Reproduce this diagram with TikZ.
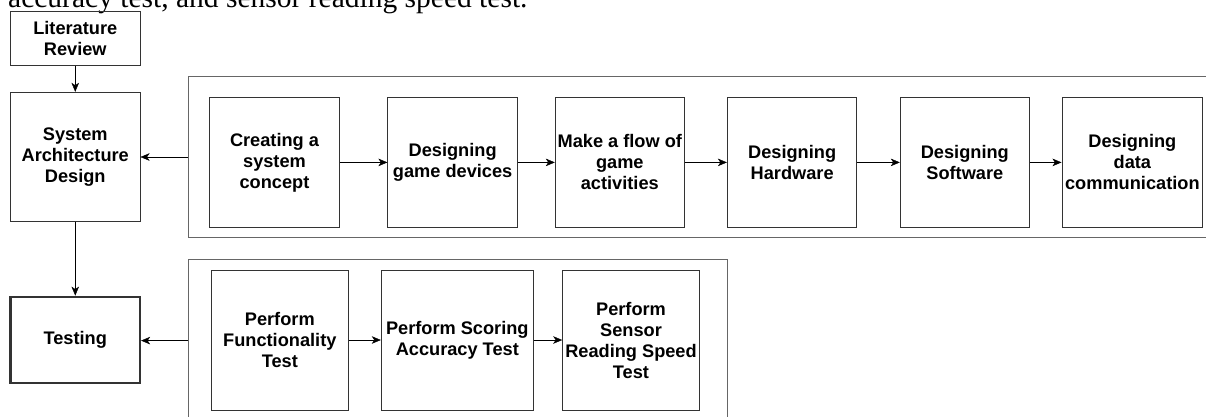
\documentclass[tikz,border=0pt]{standalone}
\usepackage{fontspec}
\setmainfont{Liberation Serif}
\setsansfont{Liberation Sans}
\usetikzlibrary{arrows.meta}
\begin{document}
\begin{tikzpicture}[x=1pt, y=-1pt,
    font=\sffamily\bfseries\fontsize{18.2}{21}\selectfont,
    box/.style={draw=black!80, line width=1pt, align=center, inner sep=0pt,
      minimum width=129.5, minimum height=129.3},
    frame/.style={draw=black!60, line width=1.4pt, inner sep=0pt},
    >={Stealth[length=9pt,width=7.5pt,inset=2.5pt]}]
    \useasboundingbox (0,0) rectangle (1206,416);
    \clip (0,0) rectangle (1206,416);
    % line of the page text above the figure
    \node[font=\normalfont\fontsize{29.5}{32}\selectfont, anchor=base west, inner sep=0pt]
      (pagetext) at (8,7.7) {accuracy test, and sensor reading speed test.};
    % groups
    \node[frame, minimum width=1040, minimum height=161.4] (designgrp) at (708.7,157) {};
    \node[frame, minimum width=539, minimum height=162.7] (testgrp) at (458.2,340.6) {};
    % left column
    \node[box, minimum height=53.3] (lit) at (75.25,38.35) {Literature\\Review};
    \node[box, minimum height=128.7] (sysarch) at (75.25,156.65) {System\\Architecture\\Design};
    \node[box, line width=2.2pt, minimum height=86.6] (testing) at (75.25,340) {Testing};
    % design steps
    \node[box] (concept) at (274.5,162.4) {Creating a\\system\\concept};
    \node[box] (devices) at (452.65,162.4) {Designing\\game devices};
    \node[box, minimum width=129] (flow) at (619.8,162.4) {Make a flow of\\game\\activities};
    \node[box] (hardware) at (792.15,162.4) {Designing\\Hardware};
    \node[box, minimum width=129] (software) at (964.8,162.4) {Designing\\Software};
    \node[box, minimum width=140.7] (datacomm) at (1132.35,162.4) {Designing\\data\\communication};
    % testing steps
    \node[box, minimum width=137, minimum height=140] (func) at (279.8,340) {Perform\\Functionality\\Test};
    \node[box, minimum width=152, minimum height=140] (scoring) at (457.3,340) {Perform Scoring\\Accuracy Test};
    \node[box, minimum width=136.6, minimum height=140] (sensor) at (631,340) {Perform\\Sensor\\Reading Speed\\Test};
    % connectors
    \draw[->] (lit) -- (sysarch);
    \draw[->] (sysarch) -- (testing);
    \draw[->] (designgrp.west) -- (designgrp.west -| sysarch.east);
    \draw[->] (testgrp.west) -- (testgrp.west -| testing.east);
    \foreach \a/\b in {concept/devices, devices/flow, flow/hardware,
      hardware/software, software/datacomm, func/scoring, scoring/sensor}
      \draw[->] (\a) -- (\b);
\end{tikzpicture}
\end{document}
